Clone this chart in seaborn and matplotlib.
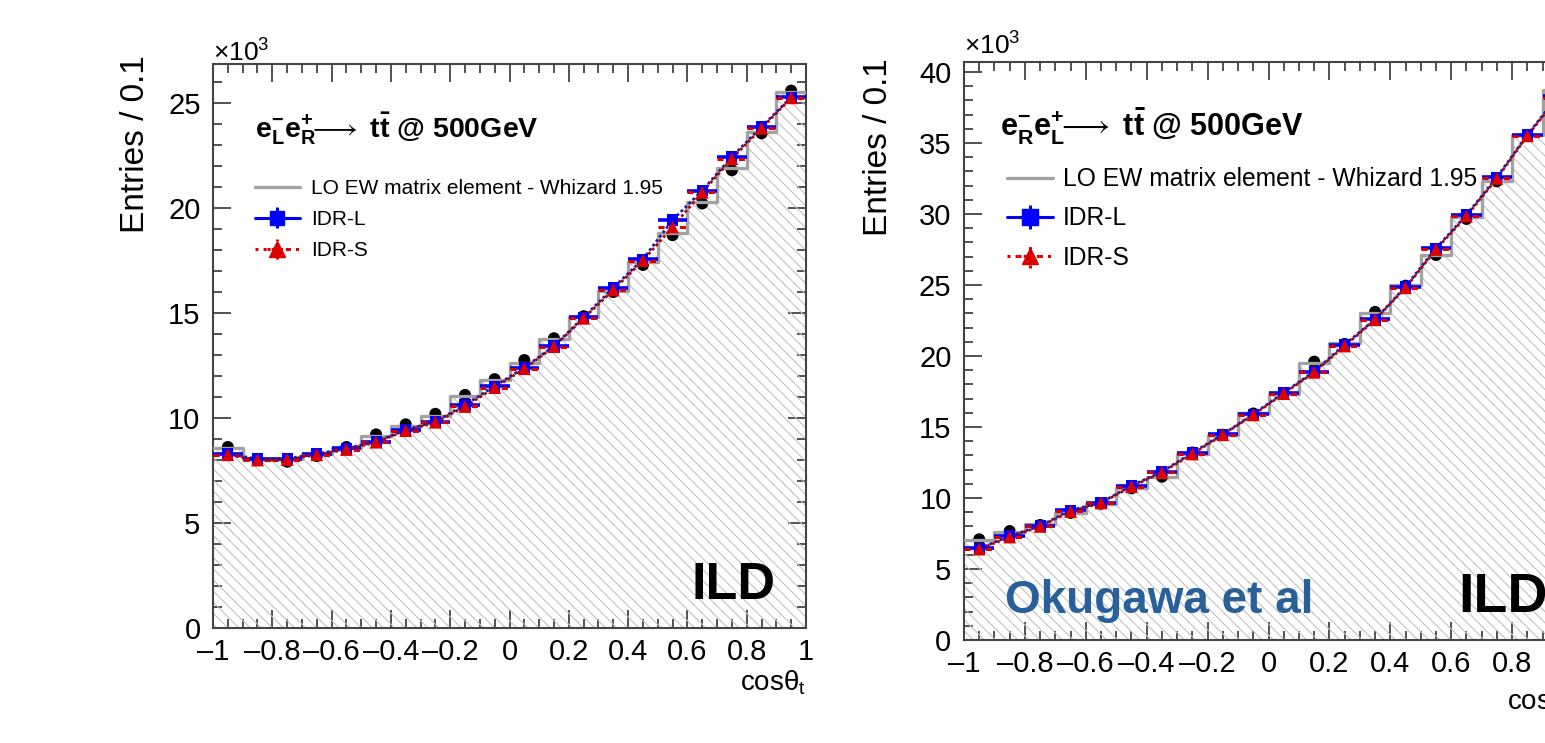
import numpy as np
import pandas as pd
import matplotlib
matplotlib.use("Agg")
import matplotlib.pyplot as plt
import seaborn as sns
from matplotlib.ticker import MultipleLocator, FuncFormatter

# cos(theta_t) binning: 20 bins of width 0.1
bin_edges = [-1.0, -0.9, -0.8, -0.7, -0.6, -0.5, -0.4, -0.3, -0.2, -0.1, 0.0,
             0.1, 0.2, 0.3, 0.4, 0.5, 0.6, 0.7, 0.8, 0.9, 1.0]

# e-_L e+_R  (entries in units of 10^3)
lo_left = [8.55, 8.05, 8.05, 8.28, 8.56, 9.14, 9.63, 10.10, 11.05, 11.80,
           12.60, 13.75, 14.83, 16.05, 17.44, 18.80, 20.30, 21.89, 23.63, 25.54]
gen_left = [8.62, 8.05, 7.92, 8.19, 8.62, 9.22, 9.70, 10.20, 11.10, 11.85,
            12.76, 13.80, 14.85, 16.00, 17.29, 18.71, 20.22, 21.80, 23.56, 25.59]
idrl_left = [8.29, 8.05, 8.06, 8.29, 8.56, 8.87, 9.43, 9.83, 10.62, 11.52,
             12.40, 13.43, 14.80, 16.20, 17.56, 19.43, 20.83, 22.44, 23.87, 25.27]
idrs_left = [8.25, 8.00, 8.02, 8.25, 8.50, 8.85, 9.40, 9.80, 10.55, 11.45,
             12.35, 13.40, 14.75, 16.10, 17.50, 19.10, 20.75, 22.35, 23.80, 25.25]

# e-_R e+_L  (entries in units of 10^3)
lo_right = [7.04, 7.58, 8.15, 8.92, 9.60, 10.70, 11.50, 13.10, 14.40, 16.00,
            17.35, 19.48, 20.90, 23.00, 25.00, 27.10, 29.77, 32.35, 35.56, 38.70]
gen_right = [7.09, 7.67, 8.10, 8.95, 9.60, 10.68, 11.50, 13.20, 14.45, 15.95,
             17.35, 19.60, 20.85, 23.10, 24.95, 27.11, 29.65, 32.30, 35.50, 38.80]
idrl_right = [6.45, 7.32, 8.03, 9.15, 9.67, 10.87, 11.85, 13.19, 14.48, 15.90,
              17.42, 18.90, 20.80, 22.58, 24.88, 27.58, 29.93, 32.58, 35.56, 38.30]
idrs_right = [6.40, 7.25, 8.00, 9.05, 9.65, 10.80, 11.80, 13.10, 14.45, 15.85,
              17.35, 18.85, 20.70, 22.55, 24.80, 27.50, 29.85, 32.50, 35.50, 38.20]

legend_labels = ["LO EW matrix element - Whizard 1.95", "IDR-L", "IDR-S"]
title_left = (r"$\mathbf{e^{-}_{L}e^{+}_{R}}\!\!\longrightarrow$ "
              r"t$\mathbf{\bar{t}}$ @ 500GeV")
title_right = (r"$\mathbf{e^{-}_{R}e^{+}_{L}}\!\!\longrightarrow$ "
               r"t$\mathbf{\bar{t}}$ @ 500GeV")

sns.set_theme(style="ticks")
plt.rcParams.update({
    "font.family": ["Liberation Sans", "DejaVu Sans"],
    "mathtext.fontset": "custom",
    "mathtext.rm": "Liberation Sans",
    "mathtext.it": "Liberation Sans:italic",
    "mathtext.bf": "Liberation Sans:bold",
    "mathtext.fallback": "stix",
    "hatch.linewidth": 0.8,
    "axes.unicode_minus": False,
    "axes.linewidth": 1.5,
    "axes.edgecolor": "#444444",
    "text.color": "black",
    "axes.labelcolor": "black",
    "xtick.color": "black",
    "ytick.color": "black",
})

BLUE = "#0000ff"
RED = "#dd0000"
GREY = "#a2a2a2"


def tick_fmt(v, _):
    v = round(v, 2)
    if abs(v) < 1e-9:
        v = 0.0
    return ("%g" % v).replace("-", "\u2013")


def draw_panel(ax, lo, gen, idrl, idrs, ymax, title, leg):
    edges = np.asarray(bin_edges)
    centers = 0.5 * (edges[:-1] + edges[1:])
    df = pd.DataFrame({"x": centers, "lo": lo, "gen": gen, "idrl": idrl, "idrs": idrs})

    # hatched LO histogram area
    ax.stairs(df["lo"], edges, fill=True, facecolor="none", edgecolor="#c2c2c2",
              hatch="\\\\\\", linewidth=0, zorder=1)
    # generator-level reference points
    sns.scatterplot(data=df, x="x", y="gen", marker="o", s=75, color="black",
                    edgecolor="none", ax=ax, zorder=2, legend=False)
    # LO step outline
    sns.histplot(data=df, x="x", weights="lo", bins=list(bin_edges), element="step",
                 fill=False, color=GREY, linewidth=2.4, ax=ax, zorder=3)

    # horizontal bin-width bars
    ax.errorbar(df["x"], df["idrl"], xerr=0.05, fmt="none", ecolor=BLUE,
                elinewidth=2.6, zorder=4)
    eb = ax.errorbar(df["x"], df["idrs"], xerr=0.05, fmt="none", ecolor=RED,
                     elinewidth=2.2, zorder=5)
    eb[2][0].set_linestyle((0, (2.0, 1.5)))

    # connecting dotted curves
    sns.lineplot(data=df, x="x", y="idrl", color="#1a1aa8", linewidth=2.0,
                 linestyle=(0, (1, 1)), ax=ax, zorder=6)
    sns.lineplot(data=df, x="x", y="idrs", color="#b00000", linewidth=2.0,
                 linestyle=(1, (1, 1)), ax=ax, zorder=6)

    sns.scatterplot(data=df, x="x", y="idrl", marker="s", s=64, color=BLUE,
                    edgecolor="none", ax=ax, zorder=7, legend=False)
    sns.scatterplot(data=df, x="x", y="idrs", marker="^", s=85, color=RED,
                    edgecolor="none", ax=ax, zorder=8, legend=False)

    ax.set_xlim(-1, 1)
    ax.set_ylim(0, ymax)
    ax.set_xlabel("")
    ax.set_ylabel("")

    ax.xaxis.set_major_locator(MultipleLocator(0.2))
    ax.xaxis.set_minor_locator(MultipleLocator(0.05))
    ax.yaxis.set_major_locator(MultipleLocator(5))
    ax.yaxis.set_minor_locator(MultipleLocator(1))
    ax.xaxis.set_major_formatter(FuncFormatter(tick_fmt))
    ax.yaxis.set_major_formatter(FuncFormatter(tick_fmt))
    ax.tick_params(which="both", direction="in", top=True, right=True,
                   color="#444444", width=1.3, labelsize=21, labelcolor="black")
    ax.tick_params(which="major", length=13)
    ax.tick_params(which="minor", length=6.5)
    ax.tick_params(axis="x", which="major", pad=7)
    ax.tick_params(axis="y", which="major", pad=9)
    for s in ax.spines.values():
        s.set_visible(True)
        s.set_color("#444444")
        s.set_linewidth(1.5)

    # legend proxies
    h_lo, = ax.plot([np.nan], [np.nan], color=GREY, linewidth=2.4)
    h_l = ax.errorbar([np.nan], [np.nan], xerr=0.05, yerr=0.5, fmt="-s", color=BLUE,
                      markersize=leg["ms"], linewidth=2.2, elinewidth=2.2)
    h_s = ax.errorbar([np.nan], [np.nan], xerr=0.05, yerr=0.5, fmt=":^", color=RED,
                      markersize=leg["ms"] + 1, linewidth=2.2, elinewidth=2.2)
    h_s[2][0].set_linestyle((0, (1, 1)))
    h_s[2][1].set_linestyle((0, (1, 1)))
    ax.legend([h_lo, h_l, h_s], legend_labels, loc="upper left",
              bbox_to_anchor=leg["anchor"], bbox_transform=ax.transAxes,
              frameon=False, fontsize=leg["fs"], handlelength=leg["hl"],
              handletextpad=leg["htp"], labelspacing=leg["ls"],
              borderpad=0, borderaxespad=0, labelcolor="black")

    ax.text(leg["title_xy"][0], leg["title_xy"][1], title, transform=ax.transAxes,
            fontsize=leg["title_fs"], fontweight="bold", ha="left", va="baseline",
            zorder=10)


fig = plt.figure(figsize=(15.45, 7.43), dpi=100)
fig.patch.set_facecolor("white")
ax_l = fig.add_axes([213 / 1545, 1 - 628 / 743, 593 / 1545, 564 / 743])
ax_r = fig.add_axes([964 / 1545, 1 - 640 / 743, 609 / 1545, 578 / 743])

draw_panel(ax_l, lo_left, gen_left, idrl_left, idrs_left, 26.86, title_left,
           dict(fs=15, hl=2.16, htp=0.53, ls=0.58, anchor=(0.0708, 0.796), ms=10,
                title_xy=(0.0708, 0.869), title_fs=20.5))
draw_panel(ax_r, lo_right, gen_right, idrl_right, idrs_right, 40.7, title_right,
           dict(fs=17.7, hl=1.87, htp=0.41, ls=0.62, anchor=(0.0706, 0.818), ms=11,
                title_xy=(0.059, 0.871), title_fs=22))

# axis titles and annotations
ax_l.text(-0.1315, 1.016, "Entries / 0.1", transform=ax_l.transAxes, rotation=90,
          fontsize=24, ha="center", va="top")
ax_l.text(0.0, 1.005, r"$\times$10$^{3}$", transform=ax_l.transAxes,
          fontsize=19, ha="left", va="baseline")
ax_l.text(1.0, -0.072, r"cos$\mathrm{\theta}_{\mathrm{t}}$", transform=ax_l.transAxes,
          fontsize=20, ha="right", va="top")
ax_l.text(0.949, 0.0514, "ILD", transform=ax_l.transAxes, fontsize=37.5,
          fontweight="bold", ha="right", va="baseline", zorder=10)

ax_r.text(-0.140, 1.007, "Entries / 0.1", transform=ax_r.transAxes, rotation=90,
          fontsize=24, ha="center", va="top")
ax_r.text(0.0, 1.012, r"$\times$10$^{3}$", transform=ax_r.transAxes,
          fontsize=19, ha="left", va="baseline")
ax_r.text(1.0, -0.082, r"cos$\mathrm{\theta}_{\mathrm{t}}$", transform=ax_r.transAxes,
          fontsize=20, ha="right", va="top")
ax_r.text(0.067, 0.047, "Okugawa et al", transform=ax_r.transAxes, fontsize=33,
          fontweight="bold", color="#2a609a", ha="left", va="baseline", zorder=10)
ax_r.text(0.811, 0.048, "ILD", transform=ax_r.transAxes, fontsize=40,
          fontweight="bold", ha="left", va="baseline", zorder=10)

fig.savefig("out.png", dpi=100, facecolor="white")
